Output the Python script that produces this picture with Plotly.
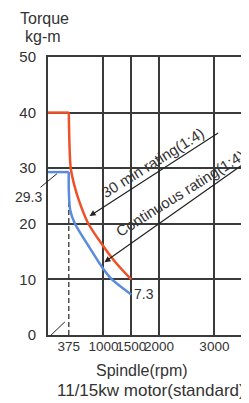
import plotly.graph_objects as go

# ---- data ----
rpm_30min = [0, 375, 410, 473, 554, 723, 982, 1232, 1500]
torque_30min = [40, 40, 30, 27, 24.3, 20.1, 16.2, 12.9, 10]

rpm_cont = [0, 375, 375, 400, 482, 750, 982, 1143, 1500]
torque_cont = [29.3, 29.3, 26, 22.5, 20.1, 15.7, 12.1, 10.1, 7.3]

base_rpm = 375
base_torque_cont = 29.3
end_torque_cont = 7.3

x_ticks = [375, 1000, 1500, 2000, 3000]
x_tick_labels = ["375", "1000", "1500", "2000", "3000"]
x_grid = [1000, 1500, 2000, 3000]
y_ticks = [0, 10, 20, 30, 40, 50]

RED = "#ef5127"
BLUE = "#5a8bdc"
GRID = "#3a3a3a"
TXT = "#333333"
FONT = "Liberation Sans, Arial, sans-serif"

fig = go.Figure()

# dashed base-speed line
fig.add_trace(go.Scatter(x=[base_rpm, base_rpm], y=[0, base_torque_cont], mode="lines",
                         line=dict(color="#222", width=1.2, dash="5px,3px"),
                         showlegend=False, hoverinfo="skip"))

def add_curve(xs, ys, color):
    # constant-torque part straight, the rest smoothed
    fig.add_trace(go.Scatter(x=xs[:2], y=ys[:2], mode="lines",
                             line=dict(color=color, width=2.5), showlegend=False))
    fig.add_trace(go.Scatter(x=xs[1:], y=ys[1:], mode="lines",
                             line=dict(color=color, width=2.5, shape="spline", smoothing=0.8),
                             showlegend=False))

add_curve(rpm_cont, torque_cont, BLUE)
add_curve(rpm_30min, torque_30min, RED)

annotations = [
    dict(text="Torque", xref="paper", yref="paper", x=-0.02, y=1.176, showarrow=False,
         font=dict(size=16, color=TXT), xanchor="center", yanchor="top"),
    dict(text="kg-m", xref="paper", yref="paper", x=-0.025, y=1.074, showarrow=False,
         font=dict(size=16, color=TXT), xanchor="center", yanchor="middle"),
    dict(text="Spindle(rpm)", xref="paper", yref="paper", x=0.475, y=-0.129, showarrow=False,
         font=dict(size=16, color=TXT), xanchor="center", yanchor="middle"),
    dict(text="11/15kw motor(standard)", xref="paper", yref="paper", x=0.52, y=-0.198,
         showarrow=False, font=dict(size=17, color=TXT), xanchor="center", yanchor="middle"),
    # 29.3 label with leader
    dict(text=str(base_torque_cont), x=161, y=29.0, xref="x", yref="y", ax=-28, ay=23,
         showarrow=True, arrowhead=0, arrowwidth=1, arrowcolor="#222",
         font=dict(size=14, color=TXT)),
    # 7.3 label
    dict(text=str(end_torque_cont), x=rpm_cont[-1], y=end_torque_cont, xref="x", yref="y",
         showarrow=False, xanchor="left", yanchor="middle", xshift=1,
         font=dict(size=14, color=TXT)),
    # rating arrows
    dict(text="", x=750, y=21.4, xref="x", yref="y", ax=130, ay=-84, showarrow=True,
         arrowhead=2, arrowsize=1, arrowwidth=1.2, arrowcolor="#222"),
    dict(text="", x=1018, y=13.1, xref="x", yref="y", ax=157, ay=-102, showarrow=True,
         arrowhead=2, arrowsize=1, arrowwidth=1.2, arrowcolor="#222"),
    dict(text="30 min rating(1:4)", xref="paper", yref="paper", x=0.53, y=0.62,
         showarrow=False, textangle=-32, font=dict(size=15, color=TXT),
         xanchor="center", yanchor="middle"),
    dict(text="Continuous rating(1:4)", xref="paper", yref="paper", x=0.665, y=0.51,
         showarrow=False, textangle=-32, font=dict(size=15, color=TXT),
         xanchor="center", yanchor="middle"),
]

shapes = [
    # leader from origin to 375 dashed line
    dict(type="line", xref="paper", yref="paper", x0=0.01, y0=-0.004, x1=0.085, y1=0.047,
         line=dict(color="#222", width=1)),
]

# the page body adds an 8px margin, so the figure is sized to fit inside it
fig.update_layout(
    width=241, height=395, autosize=False,
    margin=dict(l=40, r=1, t=49, b=68),
    paper_bgcolor="white", plot_bgcolor="white",
    font=dict(family=FONT, color=TXT),
    showlegend=False,
    annotations=annotations,
    shapes=shapes,
    xaxis=dict(range=[0, 3570], tickmode="array", tickvals=x_ticks, ticktext=x_tick_labels,
               tickangle=0, showgrid=False, zeroline=False,
               showline=True, linecolor=GRID, linewidth=2, mirror=True,
               ticks="", ticklabelstandoff=-2, tickfont=dict(size=13.5, color=TXT),
               minor=dict(tickmode="array", tickvals=x_grid, showgrid=True,
                          gridcolor=GRID, gridwidth=1.8, ticks="")),
    yaxis=dict(range=[0, 50], tickmode="array", tickvals=y_ticks,
               showgrid=True, gridcolor=GRID, gridwidth=1.8, zeroline=False,
               showline=True, linecolor=GRID, linewidth=2, mirror=True,
               ticks="", ticklabelstandoff=7, tickfont=dict(size=15, color=TXT)),
)

fig.write_html("out.html")
